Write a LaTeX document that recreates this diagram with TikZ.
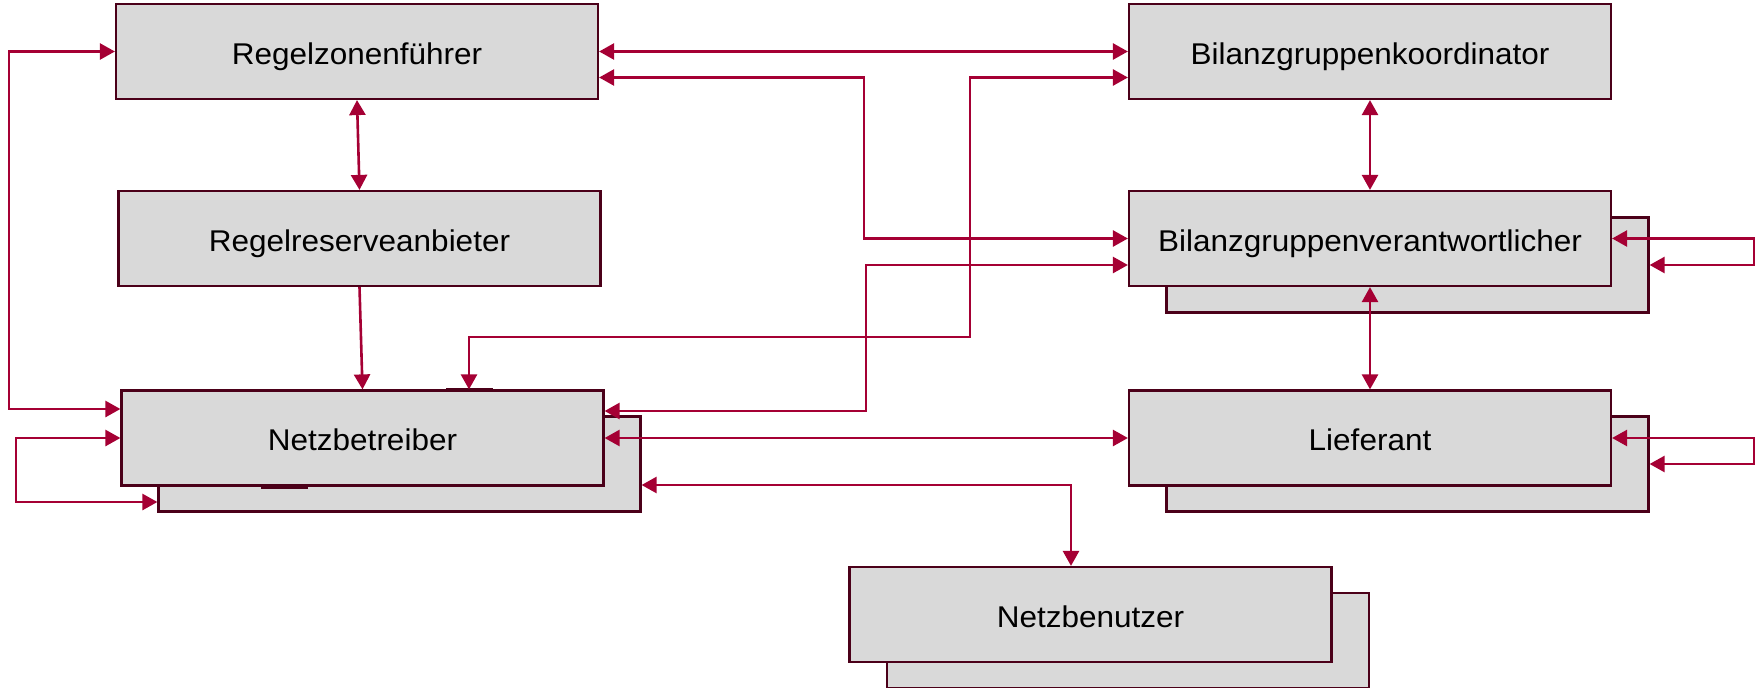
\documentclass[tikz,border=0pt]{standalone}
\usepackage{fontspec}
\setmainfont[FakeStretch=1.05]{Liberation Sans}
\usetikzlibrary{arrows.meta}
\definecolor{linkred}{RGB}{165,0,52}
\definecolor{edgecol}{RGB}{75,0,25}
\definecolor{boxfill}{RGB}{217,217,217}

\begin{document}
\begin{tikzpicture}[x=1pt,y=-1pt,
  >={Triangle[length=15pt,width=16pt]},
  box/.style={draw=edgecol, fill=boxfill, line width=2.2pt,
    minimum width=482pt, minimum height=95pt, inner sep=0pt,
    text height=21.6pt, text depth=0pt,
    font=\fontsize{30}{36}\selectfont},
  lbl/.style={yshift=-2pt},
  conn/.style={draw=linkred, line width=2.6pt, line join=miter}]

\useasboundingbox (0,0) rectangle (1759,688);

% roles drawn as single boxes
\node[box] (rzf) at (357,51.5) {\raisebox{-2pt}{Regelzonenführer}};
\node[box] (rra) at (359.5,238.5) {\raisebox{-2pt}{Regelreserveanbieter}};
\node[box] (bgk) at (1370,51.5) {\raisebox{-2pt}{Bilanzgruppenkoordinator}};

% roles drawn as stacked boxes (several instances)
\node[box] (nbb) at (399.5,464) {};
\node[box] (nb) at (362.5,438) {\raisebox{-2pt}{Netzbetreiber}};
\node[box] (bgvb) at (1407.5,265) {};
\node[box] (bgv) at (1370,238.5) {\raisebox{-2pt}{Bilanzgruppenverantwortlicher}};
\node[box] (liefb) at (1407.5,464) {};
\node[box] (lief) at (1370,438) {\raisebox{-2pt}{Lieferant}};
\node[box] (nbnb) at (1128,640.5) {};
\node[box] (nbn) at (1090.5,614.5) {\raisebox{-2pt}{Netzbenutzer}};

% small connection tabs on the Netzbetreiber box
\draw[edgecol, line width=3.5pt] (446,390) -- (493,390);
\draw[edgecol, line width=3.5pt] (261,487) -- (308,487);

% vertical links
\draw[conn,<->] (rzf.south) -- (rra.north);
\draw[conn,->] (rra.south) -- (nb.north);
\draw[conn,<->] (bgk.south) -- (bgv.north);
\draw[conn,<->] (bgv.south) -- (lief.north);

% Regelzonenführer links
\draw[conn,<->] (rzf.east) -- (bgk.west);
\draw[conn,<->] ([yshift=-26pt]rzf.east) -| (864,238.5) -- (bgv.west);
\draw[conn,<->] (rzf.west) -- (9,51.5) |- ([yshift=29pt]nb.west);

% Netzbetreiber links
\draw[conn,<->] ([yshift=-26pt]bgk.west) -| (970,337) -| ([xshift=106.5pt]nb.north);
\draw[conn,<->] ([yshift=-26.5pt]bgv.west) -| (866,411) -- ([yshift=27pt]nb.east);
\draw[conn,<->] (nb.east) -- (lief.west);
\draw[conn,<->] ([yshift=-21pt]nbb.east) -| ([xshift=-19.5pt]nbn.north);
\draw[conn,<->] (nb.west) -- (16,438) |- ([yshift=-38pt]nbb.west);

% self links on the right
\draw[conn,<->] (bgv.east) -- (1754,238.5) |- (bgvb.east);
\draw[conn,<->] (lief.east) -- (1754,438) |- (liefb.east);

\end{tikzpicture}
\end{document}
